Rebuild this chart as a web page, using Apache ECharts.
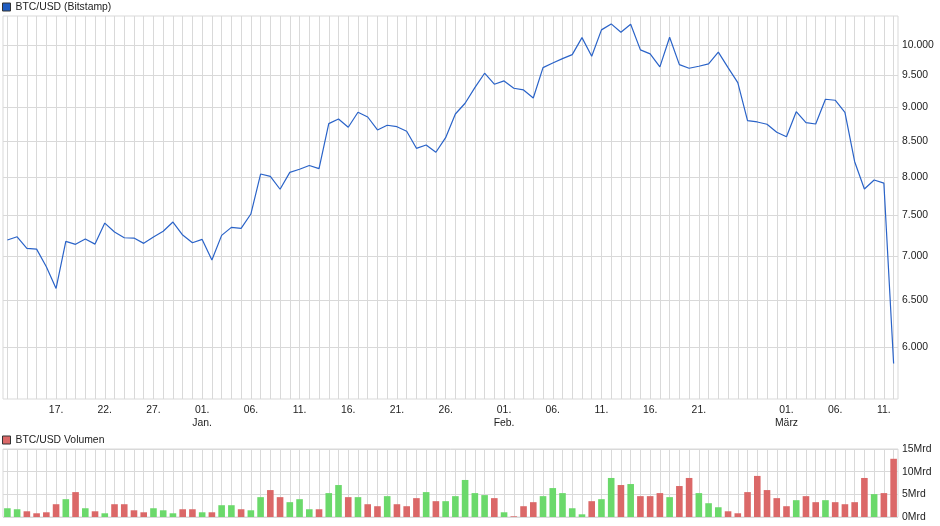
<!DOCTYPE html>
<html>
<head>
<meta charset="utf-8">
<script src="https://cdn.jsdelivr.net/npm/echarts@6/dist/echarts.min.js"></script>
<style>
html,body{margin:0;padding:0;background:#fff;}
#chart{width:940px;height:526px;}
</style>
</head>
<body>
<div id="chart"></div>
<script>
const dates = [
 '2019-12-12','2019-12-13','2019-12-14','2019-12-15','2019-12-16','2019-12-17','2019-12-18','2019-12-19','2019-12-20','2019-12-21',
 '2019-12-22','2019-12-23','2019-12-24','2019-12-25','2019-12-26','2019-12-27','2019-12-28','2019-12-29','2019-12-30','2019-12-31',
 '2020-01-01','2020-01-02','2020-01-03','2020-01-04','2020-01-05','2020-01-06','2020-01-07','2020-01-08','2020-01-09','2020-01-10',
 '2020-01-11','2020-01-12','2020-01-13','2020-01-14','2020-01-15','2020-01-16','2020-01-17','2020-01-18','2020-01-19','2020-01-20',
 '2020-01-21','2020-01-22','2020-01-23','2020-01-24','2020-01-25','2020-01-26','2020-01-27','2020-01-28','2020-01-29','2020-01-30',
 '2020-01-31','2020-02-01','2020-02-02','2020-02-03','2020-02-04','2020-02-05','2020-02-06','2020-02-07','2020-02-08','2020-02-09',
 '2020-02-10','2020-02-11','2020-02-12','2020-02-13','2020-02-14','2020-02-15','2020-02-16','2020-02-17','2020-02-18','2020-02-19',
 '2020-02-20','2020-02-21','2020-02-22','2020-02-23','2020-02-24','2020-02-25','2020-02-26','2020-02-27','2020-02-28','2020-02-29',
 '2020-03-01','2020-03-02','2020-03-03','2020-03-04','2020-03-05','2020-03-06','2020-03-07','2020-03-08','2020-03-09','2020-03-10',
 '2020-03-11','2020-03-12'
];
const price = [
 7193,7233,7093,7084,6875,6629,7177,7141,7205,7144,7402,7291,7221,7217,7153,7230,7300,7415,7254,7160,
 7201,6954,7250,7349,7337,7516,8041,8010,7837,8064,8106,8158,8114,8755,8825,8702,8925,8854,8662,8731,
 8710,8643,8398,8445,8342,8550,8899,9062,9304,9533,9358,
 9410,9294,9268,9143,9624,9700,9771,9837,10124,9811,10257,10361,10217,10356,9916,9849,9635,10131,9672,9614,
 9646,9684,9878,9624,9383,8799,8780,8746,8629,
 8564,8934,8770,8750,9123,9108,8925,8210,7840,7960,7918,5840
];
const volume = [
 1.93,1.71,1.26,0.82,1.04,2.82,3.93,5.49,1.93,1.26,0.82,2.82,2.82,1.48,1.04,1.93,1.48,0.82,1.71,1.71,
 1.04,1.04,2.60,2.60,1.71,1.48,4.38,5.94,4.38,3.27,3.93,1.71,1.71,5.27,7.05,4.38,4.38,2.82,2.38,4.60,
 2.82,2.38,4.16,5.49,3.49,3.49,4.60,8.17,5.27,4.83,4.16,
 1.04,0.15,2.38,3.27,4.60,6.38,5.27,1.93,0.59,3.49,3.93,8.61,7.05,7.27,4.60,4.60,5.27,4.38,6.83,8.61,
 5.27,3.04,2.15,1.26,0.82,5.49,9.06,5.94,4.16,
 2.38,3.71,4.60,3.27,3.71,3.27,2.82,3.27,8.61,5.05,5.27,12.84
];
const volumeUp = [
 1,1,0,0,0,0,1,0,1,0,1,0,0,0,0,1,1,1,0,0,
 1,0,1,1,0,1,1,0,0,1,1,1,0,1,1,0,1,0,0,1,
 0,0,0,1,0,1,1,1,1,1,0,
 1,0,0,0,1,1,1,1,1,0,1,1,0,1,0,0,0,1,0,0,
 1,1,1,0,0,0,0,0,0,
 0,1,0,0,1,0,0,0,0,1,0,0
];
const xTickDates = ['2019-12-17','2019-12-22','2019-12-27','2020-01-01','2020-01-06','2020-01-11','2020-01-16','2020-01-21','2020-01-26',
 '2020-02-01','2020-02-06','2020-02-11','2020-02-16','2020-02-21','2020-03-01','2020-03-06','2020-03-11'];
const xTickLabels = ['17.','22.','27.','01.\nJan.','06.','11.','16.','21.','26.',
 '01.\nFeb.','06.','11.','16.','21.','01.\nMärz','06.','11.'];
const priceTicks = [6000,6500,7000,7500,8000,8500,9000,9500,10000];
const volumeTicks = [0,5,10,15];
const seriesNames = ['BTC/USD (Bitstamp)', 'BTC/USD Volumen'];

const FONT = "'Liberation Sans', Arial, sans-serif";
const FS = 10.4;
const GRID_COLOR = '#d9d9d9';
const TEXT_COLOR = '#222';
const UP = '#6bd96b', DOWN = '#db6868', LINE = '#2a63c8';

const dayIdx = dates.map((d, i) => i);
const tickIdx = xTickDates.map(d => dates.indexOf(d));
const labelFor = {};
tickIdx.forEach((ix, k) => { labelFor[ix] = xTickLabels[k]; });

function deNum(v) {
  return String(Math.round(v)).replace(/\B(?=(\d{3})+(?!\d))/g, '.');
}

const chart = echarts.init(document.getElementById('chart'), null, {renderer: 'canvas'});

const xCommon = {
  type: 'value', min: -0.45, max: dates.length - 0.55,
  axisLine: {show: false},
  splitLine: {show: true, lineStyle: {color: GRID_COLOR, width: 1}},
  axisTick: {show: false, customValues: dayIdx},
};

chart.setOption({
  animation: false,
  textStyle: {fontFamily: FONT},
  legend: [
    {
      left: 2, top: 2, itemWidth: 8, itemHeight: 8, itemGap: 5, padding: 0,
      textStyle: {fontSize: FS, color: TEXT_COLOR, fontFamily: FONT},
      data: [{name: seriesNames[0], icon: 'rect', itemStyle: {color: '#1f5cc0', borderColor: '#333', borderWidth: 1}}],
      selectedMode: false
    },
    {
      left: 2, top: 435, itemWidth: 8, itemHeight: 8, itemGap: 5, padding: 0,
      textStyle: {fontSize: FS, color: TEXT_COLOR, fontFamily: FONT},
      data: [{name: seriesNames[1], icon: 'rect', itemStyle: {color: DOWN, borderColor: '#333', borderWidth: 1}}],
      selectedMode: false
    }
  ],
  grid: [
    {left: 3, right: 42, top: 16, height: 383, show: true, borderColor: GRID_COLOR, borderWidth: 1, containLabel: false},
    {left: 3, right: 42, top: 449, height: 68, show: true, borderColor: GRID_COLOR, borderWidth: 1, containLabel: false}
  ],
  xAxis: [
    Object.assign({}, xCommon, {
      gridIndex: 0,
      axisLabel: {
        show: true, customValues: tickIdx, margin: 5, fontSize: FS, lineHeight: 13,
        color: TEXT_COLOR, fontFamily: FONT, verticalAlign: 'top',
        formatter: v => labelFor[Math.round(v)] || ''
      }
    }),
    Object.assign({}, xCommon, {
      gridIndex: 1,
      axisLabel: {show: false}
    })
  ],
  yAxis: [
    {
      type: 'log', gridIndex: 0, position: 'right', min: 5500, max: 10500,
      axisLine: {show: false},
      axisTick: {show: false, customValues: priceTicks},
      splitLine: {show: true, lineStyle: {color: GRID_COLOR, width: 1}},
      axisLabel: {
        customValues: priceTicks, margin: 4, fontSize: FS, color: TEXT_COLOR, fontFamily: FONT,
        formatter: v => deNum(v)
      }
    },
    {
      type: 'value', gridIndex: 1, position: 'right', min: volumeTicks[0], max: volumeTicks[volumeTicks.length - 1], interval: 5,
      axisLine: {show: false},
      axisTick: {show: false},
      splitLine: {show: true, lineStyle: {color: GRID_COLOR, width: 1}},
      axisLabel: {
        margin: 4, fontSize: FS, color: TEXT_COLOR, fontFamily: FONT,
        formatter: v => v + 'Mrd'
      }
    }
  ],
  series: [
    {
      name: seriesNames[0], type: 'line', xAxisIndex: 0, yAxisIndex: 0,
      data: price.map((p, i) => [i, p]),
      showSymbol: false, symbol: 'none',
      lineStyle: {color: LINE, width: 1.2},
      itemStyle: {color: LINE}
    },
    {
      name: seriesNames[1], type: 'bar', xAxisIndex: 1, yAxisIndex: 1,
      barWidth: 6.6,
      data: volume.map((v, i) => ({value: [i, v], itemStyle: {color: volumeUp[i] ? UP : DOWN}})),
      itemStyle: {color: DOWN}
    }
  ]
});
</script>
</body>
</html>
